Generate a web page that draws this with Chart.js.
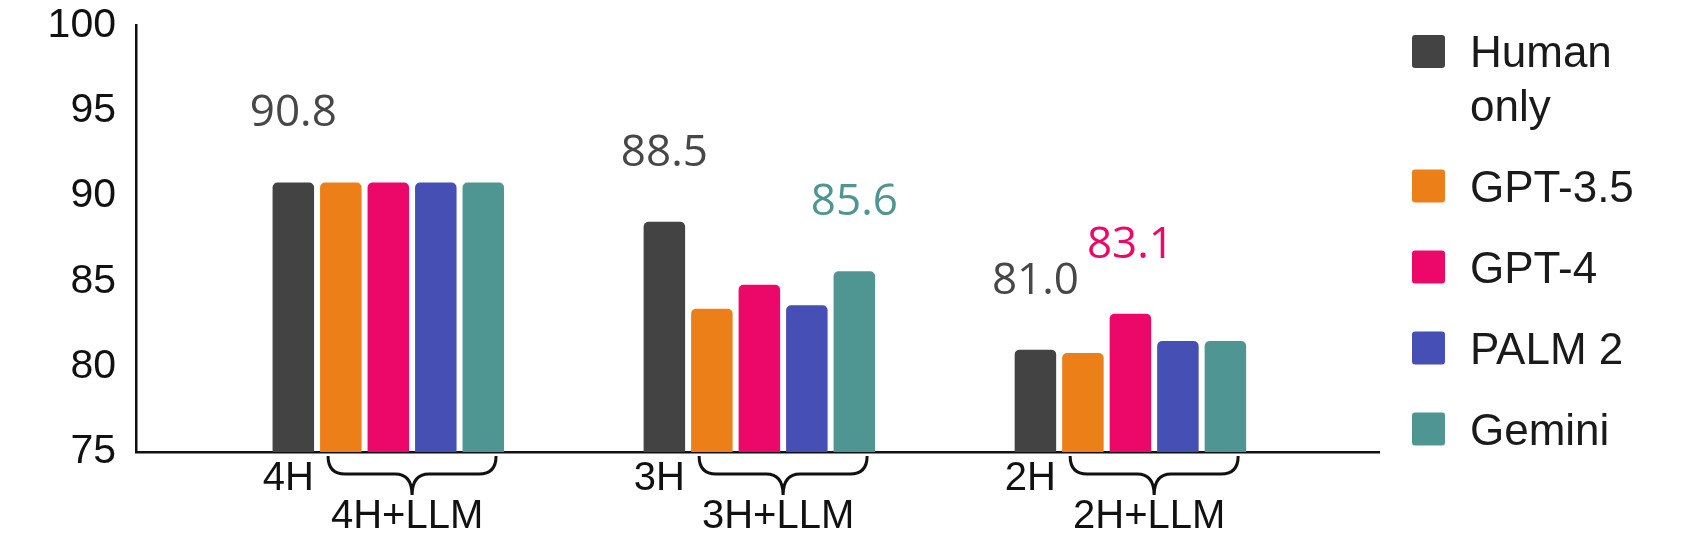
<!DOCTYPE html>
<html><head><meta charset="utf-8">
<script src="https://cdn.jsdelivr.net/npm/chart.js@4.4.1/dist/chart.umd.min.js"></script>
<style>html,body{margin:0;padding:0;background:#fff;} #wrap{width:1684px;height:534px;}</style>
</head><body><div id="wrap"><canvas id="c" width="1684" height="534"></canvas></div>
<script>
const categories = ['4H', '3H', '2H'];
const llmCategoryLabels = ['4H+LLM', '3H+LLM', '2H+LLM'];
const seriesNames = ['Human only', 'GPT-3.5', 'GPT-4', 'PALM 2', 'Gemini'];
const humanOnly = [90.8, 88.5, 81.0];
const gpt35 = [90.8, 83.4, 80.8];
const gpt4 = [90.8, 84.8, 83.1];
const palm2 = [90.8, 83.6, 81.5];
const gemini = [90.8, 85.6, 81.5];
const yTicks = [75, 80, 85, 90, 95, 100];
// [series index, category index] of bars whose value is written above them
const labelledBars = [[0, 0], [0, 1], [0, 2], [4, 1], [2, 2]];

const seriesValues = [humanOnly, gpt35, gpt4, palm2, gemini];
const colors = ['#434343', '#ED7F18', '#EC0868', '#4650B4', '#4F9692'];
const labelColors = ['#474747', '#ED7F18', '#EC0868', '#4650B4', '#4F9692'];
const FONT = '"Liberation Sans", Arial, sans-serif';

const datasets = seriesNames.map((name, s) => ({
  label: name,
  data: seriesValues[s].map((v, i) => ({x: i, y: v})),
  backgroundColor: colors[s],
  borderRadius: 5,
  borderSkipped: 'start',
  categoryPercentage: 0.64,
  barPercentage: 0.874
}));

const annotatePlugin = {
  id: 'annot',
  afterDatasetsDraw(chart) {
    const ctx = chart.ctx;
    ctx.save();
    // value labels
    ctx.font = '44px "Open Sans", sans-serif';
    ctx.textAlign = 'center';
    ctx.textBaseline = 'alphabetic';
    labelledBars.forEach(([s, i]) => {
      const el = chart.getDatasetMeta(s).data[i];
      ctx.fillStyle = labelColors[s];
      ctx.fillText(seriesValues[s][i].toFixed(1), el.x, el.y - 56);
    });
    // category labels and braces
    const metaH = chart.getDatasetMeta(0);
    const metaFirst = chart.getDatasetMeta(1);
    const metaLast = chart.getDatasetMeta(seriesNames.length - 1);
    const base = chart.chartArea.bottom;
    ctx.fillStyle = '#111';
    ctx.strokeStyle = '#111';
    ctx.font = '40px ' + FONT;
    categories.forEach((cat, i) => {
      const h = metaH.data[i];
      ctx.fillText(cat, h.x - 5, base + 38);
      const a = metaFirst.data[i], b = metaLast.data[i];
      const x1 = a.x - a.width / 2 + 8;
      const x2 = b.x + b.width / 2 - 8;
      const xc = (a.x - a.width / 2 + b.x + b.width / 2) / 2;
      const yTop = base + 4, yMid = base + 22, yTip = base + 43, r = 17;
      ctx.lineWidth = 3;
      ctx.beginPath();
      ctx.moveTo(x1, yTop);
      ctx.quadraticCurveTo(x1, yMid, x1 + r, yMid);
      ctx.lineTo(xc - r, yMid);
      ctx.quadraticCurveTo(xc, yMid, xc, yTip);
      ctx.quadraticCurveTo(xc, yMid, xc + r, yMid);
      ctx.lineTo(x2 - r, yMid);
      ctx.quadraticCurveTo(x2, yMid, x2, yTop);
      ctx.stroke();
      ctx.fillText(llmCategoryLabels[i], xc - 5, base + 76);
    });
    // legend
    ctx.font = '44px ' + FONT;
    ctx.textAlign = 'left';
    ctx.textBaseline = 'alphabetic';
    const lx = 1412, tx = 1470, maxW = chart.width - tx - 4;
    let cy = 51.5;
    seriesNames.forEach((name, s) => {
      ctx.fillStyle = colors[s];
      ctx.beginPath();
      ctx.roundRect(lx, cy - 16.5, 33, 33, 3);
      ctx.fill();
      const words = name.split(' ');
      const lines = [];
      let cur = '';
      words.forEach(w => {
        const t = cur ? cur + ' ' + w : w;
        if (cur && ctx.measureText(t).width > maxW) { lines.push(cur); cur = w; } else cur = t;
      });
      lines.push(cur);
      ctx.fillStyle = '#1a1a1a';
      lines.forEach((ln, k) => ctx.fillText(ln, tx, cy + 15.5 + k * 54));
      cy += 81 + (lines.length - 1) * 53.5;
    });
    ctx.restore();
  }
};

new Chart(document.getElementById('c'), {
  type: 'bar',
  data: {datasets},
  options: {
    responsive: false,
    animation: false,
    layout: {padding: {left: 0, top: 25.5, right: 305, bottom: 82}},
    plugins: {legend: {display: false}, tooltip: {enabled: false}},
    scales: {
      x: {
        type: 'linear',
        min: -0.68,
        max: 2.67,
        offset: false,
        bounds: 'data',
        afterBuildTicks: s => { s.ticks = categories.map((c, i) => ({value: i})); },
        ticks: {display: false},
        grid: {display: false, drawTicks: false},
        border: {display: true, color: '#111', width: 2.5},
        afterFit: s => { s.height = 0; s.paddingLeft = 0; s.paddingRight = 0; }
      },
      y: {
        min: 75,
        max: 100,
        afterBuildTicks: s => { s.ticks = yTicks.map(v => ({value: v})); },
        ticks: {font: {family: FONT, size: 41}, color: '#111', padding: 20},
        grid: {display: false, drawTicks: false},
        border: {display: true, color: '#111', width: 2.5},
        afterFit: s => { s.width = 136; s.paddingTop = 0; s.paddingBottom = 0; }
      }
    }
  },
  plugins: [annotatePlugin]
});
</script>
</body></html>
